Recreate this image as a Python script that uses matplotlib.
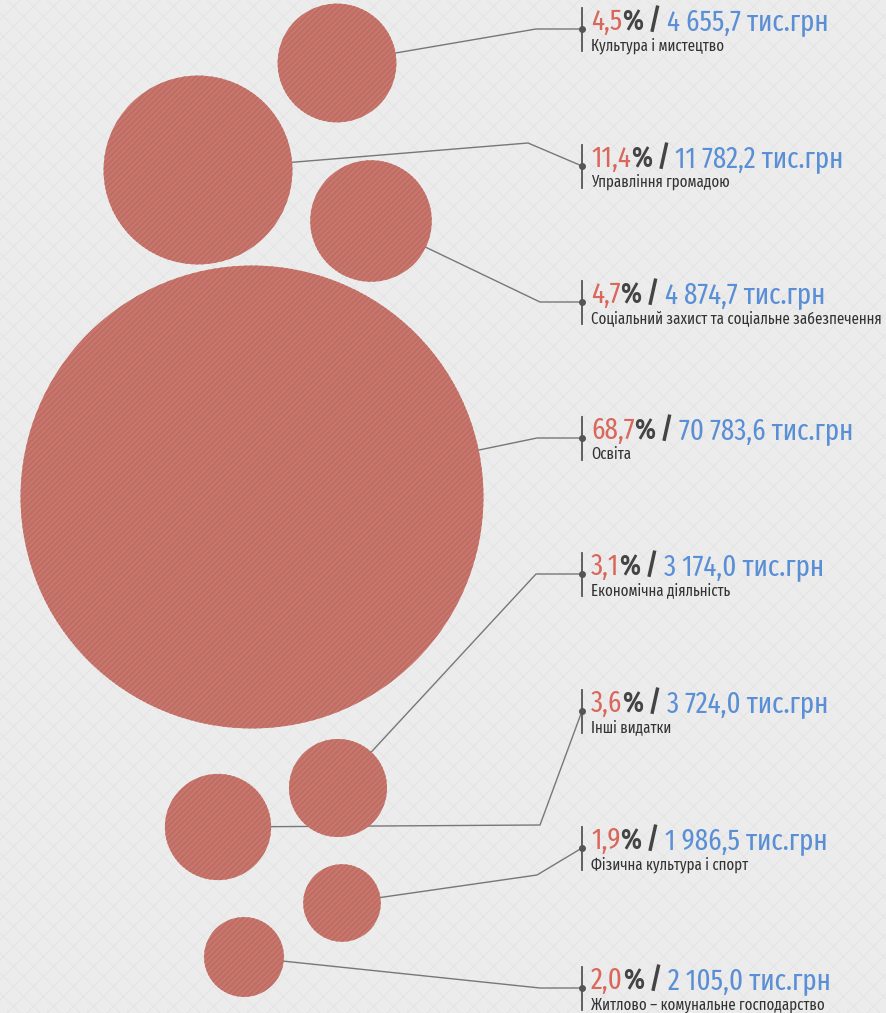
import numpy as np
import matplotlib.pyplot as plt
from matplotlib.patches import Circle

plt.rcParams['font.family'] = ['Fira Sans Extra Condensed', 'DejaVu Sans']
plt.rcParams['hatch.linewidth'] = 1.2

# data
categories = ['Культура і мистецтво', 'Управління громадою',
              'Соціальний захист та соціальне забезпечення', 'Освіта',
              'Економічна діяльність', 'Інші видатки',
              'Фізична культура і спорт', 'Житлово – комунальне господарство']
percents = [4.5, 11.4, 4.7, 68.7, 3.1, 3.6, 1.9, 2.0]
amounts = [4655.7, 11782.2, 4874.7, 70783.6, 3174.0, 3724.0, 1986.5, 2105.0]

# layout (pixels)
centers = [(337, 63), (198, 170), (371, 221), (252, 497),
           (338, 788), (218, 827), (342, 903), (244, 957)]
bends = [(536, 29), (528, 143), (540, 302), (537, 438),
         (536, 574), (540, 825), (537, 875), (540, 988)]
label_y = [29, 166, 302, 438, 574, 711, 848, 988]
scale = 0.87

RED = '#d9675b'
BLUE = '#5a8fd6'
DARK = '#444444'
BUBBLE = '#c9776d'
STRIPE = '#bd6c63'


def fmt(v, dec=1):
    s = f'{v:,.{dec}f}'
    return s.replace(',', ' ').replace('.', ',')


fig = plt.figure(figsize=(8.86, 10.13), dpi=100)
fig.patch.set_facecolor('#ececec')
ax = fig.add_axes([0, 0, 1, 1])
ax.set_xlim(0, 886)
ax.set_ylim(1013, 0)
ax.axis('off')

# background lattice
for c in np.arange(-1013, 900, 20):
    ax.plot([c, c + 1013], [0, 1013], color='#e2e2e2', lw=0.6, zorder=0)
    ax.plot([c, c + 1013], [1013, 0], color='#e2e2e2', lw=0.6, zorder=0)

renderer = fig.canvas.get_renderer()

for cat, p, a, (cx, cy), (bx, by), ly in zip(categories, percents, amounts,
                                            centers, bends, label_y):
    r = scale * np.sqrt(a)
    ax.add_patch(Circle((cx, cy), r, facecolor=BUBBLE, edgecolor=STRIPE,
                        hatch='//////', lw=0, zorder=2))
    # leader line: start on circle edge towards the bend
    ang = np.arctan2(by - cy, bx - cx)
    sx, sy = cx + r * np.cos(ang), cy + r * np.sin(ang)
    ax.plot([sx, bx, 582], [sy, by, ly], color='#777777', lw=1, zorder=1)
    ax.plot([582, 582], [ly - 21, ly + 22], color='#555555', lw=1.3, zorder=3)
    ax.plot(582, ly, 'o', color='#555555', ms=4, zorder=4)

    # headline in coloured pieces
    x = 591
    pieces = [(fmt(p), RED, 'normal'), ('%', DARK, 'semibold'),
              (' / ', DARK, 'semibold'), (fmt(a) + ' тис.грн', BLUE, 'normal')]
    for s, col, w in pieces:
        t = ax.text(x, ly + 1, s, color=col, fontsize=21, fontweight=w,
                    va='baseline', ha='left', zorder=5)
        x += t.get_window_extent(renderer).width
    ax.text(591, ly + 21, cat, color='#333333', fontsize=11.6,
            va='baseline', ha='left', zorder=5)

fig.savefig('out.png', dpi=100, facecolor=fig.get_facecolor())
